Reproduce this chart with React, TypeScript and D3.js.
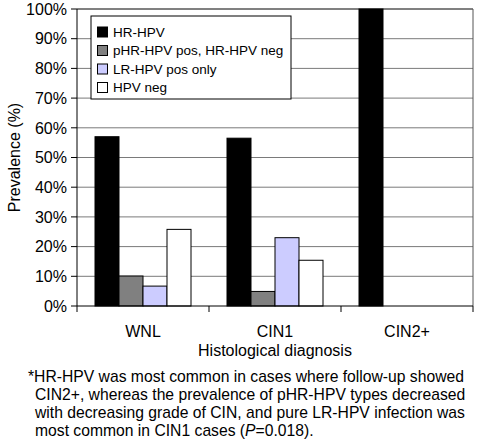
import React from "react";
import * as d3 from "d3";

const categories = ["WNL", "CIN1", "CIN2+"];
const seriesNames = ["HR-HPV", "pHR-HPV pos, HR-HPV neg", "LR-HPV pos only", "HPV neg"];
const hrHpv = [57.0, 56.5, 100];
const phrHpv = [10.1, 4.9, 0];
const lrHpv = [6.7, 23.0, 0];
const hpvNeg = [25.8, 15.4, 0];
const yTicks = [0, 10, 20, 30, 40, 50, 60, 70, 80, 90, 100];
const captionLines = [
  "*HR-HPV was most common in cases where follow-up showed",
  "CIN2+, whereas the prevalence of pHR-HPV types decreased",
  "with decreasing grade of CIN, and pure LR-HPV infection was",
  "most common in CIN1 cases (",
];

const colors = ["#000000", "#808080", "#ccccff", "#ffffff"];
const FONT = "'Liberation Sans', Arial, Helvetica, sans-serif";

export default function App() {
  const W = 478, H = 440;
  const left = 77, right = 473, top = 9, bottom = 306;
  const series = [hrHpv, phrHpv, lrHpv, hpvNeg];
  const x0 = d3.scaleBand().domain(categories).range([left, right]).paddingInner(0).paddingOuter(0);
  const x1 = d3.scaleBand().domain(seriesNames).range([0, x0.bandwidth()]).paddingInner(0).paddingOuter(0.75);
  const y = d3.scaleLinear().domain([0, 100]).range([bottom, top]);
  const catTicks = [left, ...categories.map((c) => (x0(c) as number) + x0.bandwidth())];

  return (
    <svg width={W} height={H} style={{ position: "absolute", left: 0, top: 0, background: "#fff" }} fontFamily={FONT}>
      <rect x={0} y={0} width={W} height={H} fill="#fff" />
      {yTicks.slice(1).map((t) => (
        <line key={"g" + t} x1={left} x2={right} y1={y(t)} y2={y(t)} stroke="#7a7a7a" strokeWidth={1} />
      ))}
      <line x1={left} x2={right} y1={top} y2={top} stroke="#444" strokeWidth={1} />
      <line x1={right} x2={right} y1={top} y2={bottom} stroke="#555" strokeWidth={1} />
      {categories.map((c, ci) =>
        series.map((s, si) =>
          s[ci] > 0 ? (
            <rect
              key={c + si}
              x={(x0(c) as number) + (x1(seriesNames[si]) as number)}
              y={y(s[ci])}
              width={x1.bandwidth()}
              height={bottom - y(s[ci])}
              fill={colors[si]}
              stroke="#000"
              strokeWidth={1}
            />
          ) : null
        )
      )}
      <line x1={left} x2={left} y1={top} y2={bottom} stroke="#000" strokeWidth={1} />
      <line x1={left} x2={right} y1={bottom} y2={bottom} stroke="#000" strokeWidth={1} />
      {yTicks.map((t) => (
        <g key={"t" + t}>
          <line x1={left - 6} x2={left} y1={y(t)} y2={y(t)} stroke="#000" />
          <text x={left - 10} y={y(t)} dy="0.36em" textAnchor="end" fontSize={16} fill="#000">
            {t + "%"}
          </text>
        </g>
      ))}
      {catTicks.map((tx, i) => (
        <line key={"ct" + i} x1={tx} x2={tx} y1={bottom} y2={bottom + 6} stroke="#000" />
      ))}
      {categories.map((c) => (
        <text key={"cl" + c} x={(x0(c) as number) + x0.bandwidth() / 2} y={337} textAnchor="middle" fontSize={16} fill="#000">
          {c}
        </text>
      ))}
      <text x={(left + right) / 2} y={356} textAnchor="middle" fontSize={16} fill="#000">
        Histological diagnosis
      </text>
      <text transform={`translate(20,${(top + bottom) / 2}) rotate(-90)`} textAnchor="middle" fontSize={16} fill="#000">
        Prevalence (%)
      </text>
      <rect x={91} y={16} width={200} height={83} fill="#fff" stroke="#000" strokeWidth={1} />
      {seriesNames.map((n, i) => (
        <g key={"lg" + i}>
          <rect x={97.5} y={27 + i * 18.5} width={10} height={10} fill={colors[i]} stroke="#000" strokeWidth={1} />
          <text x={113} y={32 + i * 18.5} dy="0.36em" fontSize={13.5} fill="#000">
            {n}
          </text>
        </g>
      ))}
      {captionLines.map((l, i) => (
        <text key={"cap" + i} x={i === 0 ? 28 : 35} y={382 + i * 18} fontSize={15.7} fill="#000">
          {l}
          {i === 3 ? (
            <>
              <tspan fontStyle="italic">P</tspan>
              <tspan>=0.018).</tspan>
            </>
          ) : null}
        </text>
      ))}
    </svg>
  );
}
